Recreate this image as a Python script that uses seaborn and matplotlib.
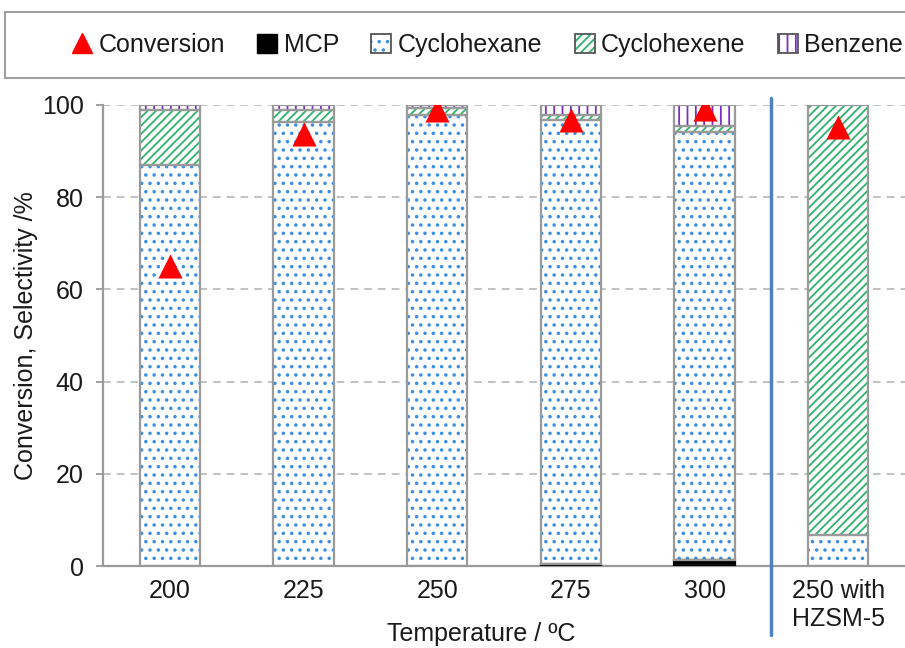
import numpy as np
import pandas as pd
import matplotlib
matplotlib.use("Agg")
import matplotlib.pyplot as plt
from matplotlib.lines import Line2D
from matplotlib.patches import Patch, Rectangle
from matplotlib.legend_handler import HandlerTuple
import seaborn as sns

# Product selectivities (%) and conversion (%) per reaction condition
categories = ["200", "225", "250", "275", "300", "250 with\nHZSM-5"]
mcp = [0.0, 0.0, 0.0, 0.5, 1.2, 0.0]
cyclohexane = [87.0, 96.3, 97.9, 96.2, 92.9, 6.8]
cyclohexene = [12.0, 2.7, 1.4, 1.1, 1.3, 93.2]
benzene = [1.0, 1.0, 0.7, 2.2, 4.6, 0.0]
conversion = [65.0, 93.8, 99.0, 96.8, 99.2, 95.3]

df = pd.DataFrame({
    "category": categories,
    "MCP": mcp,
    "Cyclohexane": cyclohexane,
    "Cyclohexene": cyclohexene,
    "Benzene": benzene,
    "Conversion": conversion,
})

sns.set_style("white")
plt.rcParams["font.family"] = ["Liberation Sans", "DejaVu Sans"]
plt.rcParams["hatch.linewidth"] = 1.3
TEXT = "#1a1a1a"
EDGE = "#9a9a9a"
FS = 18

fig = plt.figure(figsize=(9.05, 6.48), dpi=100)
W, H = 905, 648
ax = fig.add_axes([103 / W, 1 - 566 / H, 802 / W, 461 / H])

# (column, face colour, hatch, hatch colour, outline colour)
layers = [
    ("MCP", "black", None, "black", "black"),
    ("Cyclohexane", "white", "..", "#3a8fe0", EDGE),
    ("Cyclohexene", "white", "////", "#2db36b", EDGE),
    ("Benzene", "white", "||", "#7b2fc0", EDGE),
]

bottom = np.zeros(len(categories))
for col, face, hatch, hcol, ecol in layers:
    vals = df[col].to_numpy()
    n_before = len(ax.patches)
    sns.barplot(data=df, x="category", y=col, order=categories, color=face,
                saturation=1, width=0.45, bottom=bottom, hatch=hatch,
                edgecolor=hcol, linewidth=0, ax=ax, zorder=2)
    sns.barplot(data=df, x="category", y=col, order=categories, color=ecol,
                saturation=1, width=0.45, bottom=bottom, fill=False,
                linewidth=1.6, ax=ax, zorder=3)
    # empty segments leave no outline behind
    for p in ax.patches[n_before:]:
        if p.get_height() == 0:
            p.set_visible(False)
    bottom = bottom + vals

sns.scatterplot(data=df, x="category", y="Conversion", marker="^", color="red",
                s=300, linewidth=0, ax=ax, zorder=6, legend=False)

ax.set_xlim(-0.5, len(categories) - 0.5)
ax.set_ylim(0, 100)
ax.set_yticks([0, 20, 40, 60, 80, 100])
ax.yaxis.grid(True, linestyle=(0, (5, 4)), color="#b0b0b0", linewidth=1.1)
ax.xaxis.grid(False)
ax.set_axisbelow(True)

ax.set_xticks(range(len(categories)))
ax.set_xticklabels(categories, fontsize=FS, color=TEXT, linespacing=1.25)
ax.set_xticks(np.arange(-0.5, len(categories)), minor=True)
ax.tick_params(axis="x", which="major", length=0, pad=9)
ax.tick_params(axis="x", which="minor", length=5, width=1.3, color=EDGE, direction="out")
ax.tick_params(axis="y", length=5, width=1.3, color=EDGE, direction="out",
               labelsize=FS, labelcolor=TEXT, pad=9)
ax.tick_params(axis="both", bottom=True, left=True)

for side in ["top", "right"]:
    ax.spines[side].set_visible(False)
for side in ["left", "bottom"]:
    ax.spines[side].set_color(EDGE)
    ax.spines[side].set_linewidth(1.6)

ax.set_xlabel("")
ax.set_ylabel("Conversion, Selectivity /%", fontsize=FS, color=TEXT, labelpad=3)
fig.text(481 / W, 1 - 634 / H, "Temperature / ºC", fontsize=FS, color=TEXT,
         ha="center", va="center")

# Separator between the temperature series and the zeolite run
ax.axvline(len(categories) - 1.5, ymin=-0.15, ymax=1.015, color="#4f81bd",
           linewidth=2.5, clip_on=False, zorder=7)

# Legend with a full-width frame
fig.patches.append(Rectangle((5 / W, 1 - 78 / H), 1.0, 66 / H,
                             transform=fig.transFigure, facecolor="white",
                             edgecolor="#a0a0a0", linewidth=1.5))


def hatched(face, hatch, hcol):
    return (Patch(facecolor=face, edgecolor=hcol, hatch=hatch, linewidth=0),
            Patch(facecolor="none", edgecolor="#555555", linewidth=1.3))


handles = [
    Line2D([], [], marker="^", color="red", linestyle="none", markersize=14),
    (Patch(facecolor="black", edgecolor="black"),),
    hatched("white", "..", "#3a8fe0"),
    hatched("white", "////", "#2db36b"),
    hatched("white", "||", "#7b2fc0"),
]
labels = ["Conversion", "MCP", "Cyclohexane", "Cyclohexene", "Benzene"]
fig.legend(handles, labels, loc="center left", bbox_to_anchor=(62 / W, 1 - 45 / H),
           ncol=5, frameon=False, fontsize=FS, handlelength=0.8, handleheight=0.8,
           handletextpad=0.25, columnspacing=1.3, borderaxespad=0,
           handler_map={tuple: HandlerTuple(ndivide=1, pad=0)},
           labelcolor=TEXT)

fig.savefig("out.png", dpi=100)
